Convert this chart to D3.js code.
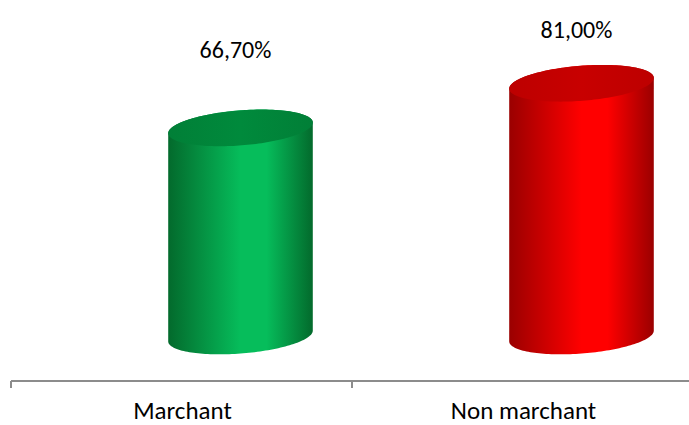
<!DOCTYPE html>
<html>
<head>
<meta charset="utf-8">
<script src="https://cdn.jsdelivr.net/npm/d3@7"></script>
<style>
  html, body { margin: 0; padding: 0; background: #ffffff; }
  svg { display: block; }
  text { font-family: Carlito, Calibri, Lato, "Open Sans", sans-serif; fill: #000; }
</style>
</head>
<body>
<div id="chart"></div>
<script>
// Share by sector (percent)
const categories = ["Marchant", "Non marchant"];
const values = [66.70, 81.00];
const valueLabels = ["66,70%", "81,00%"];
const bodyColors = [
  { edge: "#036a2c", mid: "#06bd5b", top: "#008a3c", topDark: "#017f37" },
  { edge: "#9a0000", mid: "#ff0000", top: "#c80000", topDark: "#bd0000" }
];

const W = 689, H = 425;
const svg = d3.select("#chart").append("svg")
  .attr("width", W).attr("height", H);
const defs = svg.append("defs");

// Category axis on the chart floor
const axisY = 381;
const x = d3.scaleBand().domain(categories).range([11, 693]).paddingInner(0).paddingOuter(0);

// Value scale for the cylinder heights (measured on the back plane)
const y = d3.scaleLinear().domain([0, 100]).range([336, 24]);
// Position of the value labels above each cylinder
const labelY = d3.scaleLinear().domain([0, 100]).range([151, 11]);

// 3D projection offset from floor to back of the plot, and cylinder shape
const depthDx = 59;
const rx = 72.5, ry = 17.5, theta = -4.5 * Math.PI / 180;

function ellipsePoint(cx, cy, t) {
  return [
    cx + rx * Math.cos(t) * Math.cos(theta) - ry * Math.sin(t) * Math.sin(theta),
    cy + rx * Math.cos(t) * Math.sin(theta) + ry * Math.sin(t) * Math.cos(theta)
  ];
}
const t0 = Math.atan2(-ry * Math.sin(theta), rx * Math.cos(theta));

function arc(cx, cy, from, to, n) {
  return d3.range(n + 1).map(i => ellipsePoint(cx, cy, from + (to - from) * i / n));
}

const line = d3.line();

const bars = svg.append("g");
categories.forEach((c, i) => {
  const cx = x(c) + x.bandwidth() / 2 + depthDx;
  const yBase = y(0), yTop = y(values[i]);
  const col = bodyColors[i];

  const halfW = Math.sqrt(rx * rx * Math.cos(theta) ** 2 + ry * ry * Math.sin(theta) ** 2);
  const gid = "body" + i;
  const g = defs.append("linearGradient").attr("id", gid)
    .attr("gradientUnits", "userSpaceOnUse")
    .attr("x1", cx - halfW).attr("x2", cx + halfW).attr("y1", 0).attr("y2", 0);
  [[0, col.edge], [0.5, col.mid], [0.68, col.mid], [1, col.edge]].forEach(([o, cl]) =>
    g.append("stop").attr("offset", o).attr("stop-color", cl));

  const tid = "top" + i;
  const tg = defs.append("linearGradient").attr("id", tid)
    .attr("gradientUnits", "userSpaceOnUse")
    .attr("x1", cx - halfW).attr("x2", cx + halfW).attr("y1", 0).attr("y2", 0);
  [[0, col.topDark], [0.5, col.top], [1, col.topDark]].forEach(([o, cl]) =>
    tg.append("stop").attr("offset", o).attr("stop-color", cl));

  // silhouette: front half of the base ellipse, then back half of the top ellipse
  const outline = arc(cx, yBase, t0, t0 + Math.PI, 80)
    .concat(arc(cx, yTop, t0 + Math.PI, t0 + 2 * Math.PI, 80));
  bars.append("path")
    .attr("d", line(outline) + "Z")
    .attr("fill", `url(#${gid})`);

  // top cap
  bars.append("path")
    .attr("d", line(arc(cx, yTop, 0, 2 * Math.PI, 160)) + "Z")
    .attr("fill", `url(#${tid})`);

  // value label
  svg.append("text")
    .attr("x", cx - 5)
    .attr("y", labelY(values[i]))
    .attr("text-anchor", "middle")
    .attr("font-size", 24)
    .text(valueLabels[i]);
});

// axis line with category separators
const axis = d3.axisBottom(x).tickValues([]).tickSizeOuter(0);
const axisG = svg.append("g").attr("transform", `translate(0,${axisY})`).call(axis);
axisG.select(".domain").attr("stroke", "#8c8c8c").attr("stroke-width", 2)
  .attr("d", `M11,0H689`);
const seps = [x.range()[0], x(categories[1])];
axisG.selectAll(".sep").data(seps).join("line")
  .attr("class", "sep")
  .attr("x1", d => d).attr("x2", d => d)
  .attr("y1", 0).attr("y2", 7)
  .attr("stroke", "#8c8c8c").attr("stroke-width", 2);

// category labels
svg.append("g").selectAll("text").data(categories).join("text")
  .attr("x", d => x(d) + x.bandwidth() / 2 + 1)
  .attr("y", 419)
  .attr("text-anchor", "middle")
  .attr("font-size", 25)
  .text(d => d);
</script>
</body>
</html>
